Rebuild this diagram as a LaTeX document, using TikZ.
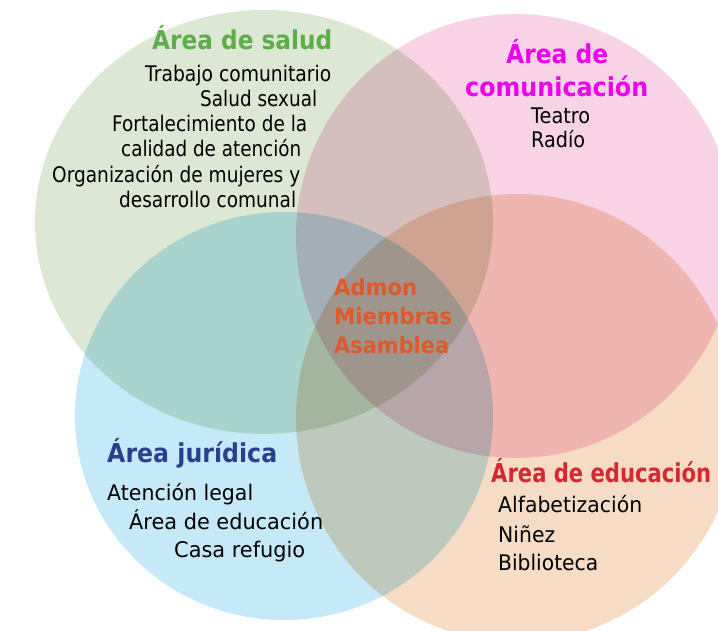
\documentclass[tikz,border=0pt]{standalone}
\usepackage{fontspec}
\usepackage{graphicx}
\setmainfont{DejaVu Sans}
\definecolor{cgreen}{HTML}{DCE8D3}
\definecolor{cpink}{HTML}{F8D3E5}
\definecolor{cblue}{HTML}{C5E9F8}
\definecolor{cpeach}{HTML}{F6DCC4}
\definecolor{tgreen}{HTML}{5DAE4B}
\definecolor{tmag}{HTML}{EC00EC}
\definecolor{tblue}{HTML}{27418F}
\definecolor{tred}{HTML}{D72730}
\definecolor{tcore}{HTML}{E0592A}
\newcommand{\fitw}[2]{\resizebox{#1pt}{\height}{#2}}
\tikzset{
  area/.style={blend mode=multiply, draw=none},
  title/.style={font=\fontsize{26}{30}\selectfont\bfseries, inner sep=0pt, anchor=base west},
  body/.style={font=\fontsize{21.5}{25}\selectfont, text=black, inner sep=0pt, anchor=base west},
  core/.style={font=\fontsize{22.5}{28}\selectfont\bfseries, text=tcore, inner sep=0pt, anchor=base west}
}
\begin{document}
\begin{tikzpicture}[x=1pt,y=-1pt]
\fill[white] (0,0) rectangle (718,631);
\useasboundingbox (0,0) rectangle (718,631);
\begin{scope}
\clip (0,0) rectangle (718,631);
\fill[area, cgreen] (264,222) ellipse [x radius=229, y radius=212];
\fill[area, cpink] (516,236) ellipse [x radius=220, y radius=222];
\fill[area, cblue] (284,416) ellipse [x radius=209, y radius=204];
\fill[area, cpeach] (517,418) ellipse [x radius=221, y radius=224];
\end{scope}
% salud
\node[title, text=tgreen] (ts) at (152,50) {\fitw{180}{Área de salud}};
\node[body] (s1) at (145,82) {\fitw{186}{Trabajo comunitario}};
\node[body] (s2) at (200,107) {\fitw{117}{Salud sexual}};
\node[body] (s3) at (112,132) {\fitw{195}{Fortalecimiento de la}};
\node[body] (s4) at (121,157) {\fitw{180}{calidad de atención}};
\node[body] (s5) at (52,183) {\fitw{248}{Organización de mujeres y}};
\node[body] (s6) at (119,208) {\fitw{177}{desarrollo comunal}};
% comunicacion
\node[title, text=tmag] (tc1) at (506,64) {\fitw{102}{Área de}};
\node[title, text=tmag] (tc2) at (465,97) {\fitw{183}{comunicación}};
\node[body] (c1) at (531,124) {\fitw{59}{Teatro}};
\node[body] (c2) at (531,148) {\fitw{54}{Radío}};
% juridica
\node[title, text=tblue] (tj) at (107,462) {\fitw{170}{Área jurídica}};
\node[body] (j1) at (107,500) {\fitw{146}{Atención legal}};
\node[body] (j2) at (129,529) {\fitw{194}{Área de educación}};
\node[body] (j3) at (174,557) {\fitw{131}{Casa refugio}};
% educacion
\node[title, text=tred] (te) at (491,482) {\fitw{220}{Área de educación}};
\node[body] (e1) at (498,512) {\fitw{144}{Alfabetización}};
\node[body] (e2) at (498,542) {\fitw{57}{Niñez}};
\node[body] (e3) at (498,570) {\fitw{100}{Biblioteca}};
% core
\node[core] (k1) at (334,295) {\fitw{83}{Admon}};
\node[core] (k2) at (334,324) {\fitw{118}{Miembras}};
\node[core] (k3) at (334,353) {\fitw{115}{Asamblea}};
\end{tikzpicture}
\end{document}
